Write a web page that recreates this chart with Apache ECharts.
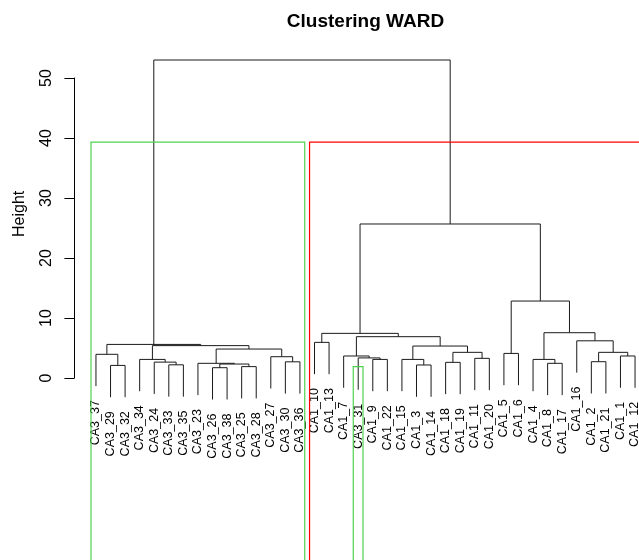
<!DOCTYPE html>
<html><head><meta charset="utf-8">
<script src="https://cdn.jsdelivr.net/npm/echarts@6/dist/echarts.min.js"></script>
<style>html,body{margin:0;padding:0;background:#fff}#c{width:639px;height:560px}</style>
</head><body><div id="c"></div>
<script>
// ---- data ----
const chartTitle = 'Clustering WARD';
const yAxisName = 'Height';
const leafLabels = [
  'CA3_37','CA3_29','CA3_32','CA3_34','CA3_24','CA3_33','CA3_35','CA3_23','CA3_26','CA3_38',
  'CA3_25','CA3_28','CA3_27','CA3_30','CA3_36','CA1_10','CA1_13','CA1_7','CA3_31','CA1_9',
  'CA1_22','CA1_15','CA1_3','CA1_14','CA1_18','CA1_19','CA1_11','CA1_20','CA1_5','CA1_6',
  'CA1_4','CA1_8','CA1_17','CA1_16','CA1_2','CA1_21','CA1_1','CA1_12'
];
// merge children: negative = leaf position (1-based, plotting order), positive = earlier merge (1-based)
const mergeLeft  = [ -9,-11, -2, -6,  1, -8, -5,-14, -4,-13, -1,  6,  9, 11,
                    -20,-19,-18,-16,-23,-22,-25,-27, 21, 20, 17, 18,-29,-32,-31,-35,-37, 30,-34, 29, 27, 26, 14];
const mergeRight = [-10,-12, -3, -7,  2,  5,  4,-15,  7,  8,  3, 10, 12, 13,
                    -21, 15, 16,-17,-24, 19,-26,-28, 22, 23, 24, 25,-30,-33, 28,-36,-38, 31, 32, 33, 34, 35, 36];
const mergeHeight = [1.72, 1.90, 2.10, 2.20, 2.33, 2.45, 2.65, 2.70, 3.10, 3.55, 3.95, 4.83, 5.40, 5.60,
                     3.10, 3.35, 3.67, 5.94, 2.17, 3.10, 2.61, 3.28, 4.28, 5.33, 6.89, 7.44,
                     4.10, 2.45, 3.10, 2.72, 3.67, 4.28, 6.20, 7.55, 12.83, 25.67, 53.0];
const yTicks = [0, 10, 20, 30, 40, 50];
const rectLeft  = [0.66, 15.66, 18.66];
const rectRight = [15.33, 38.33, 19.33];
const rectTop   = [39.33, 39.33, 1.89];
const rectColors = ['#4fd34f', '#ff0000', '#4fd34f'];
const hang = 0.1;

// ---- layout from data ----
const FONT = '"Liberation Sans", Arial, Helvetica, sans-serif';
const n = leafLabels.length;
const maxH = Math.max(...mergeHeight), minH = Math.min(...mergeHeight);
const hangH = hang * maxH;
const mergeX = [];
const leafBottom = new Array(n).fill(0);
function posOf(c){ return c < 0 ? -c : mergeX[c-1]; }
const segs = [];
for (let k = 0; k < mergeHeight.length; k++) {
  const l = mergeLeft[k], r = mergeRight[k], h = mergeHeight[k];
  mergeX[k] = (posOf(l) + posOf(r)) / 2;
  const hl = l < 0 ? h - hangH : mergeHeight[l-1];
  const hr = r < 0 ? h - hangH : mergeHeight[r-1];
  if (l < 0) leafBottom[-l-1] = h - hangH;
  if (r < 0) leafBottom[-r-1] = h - hangH;
  segs.push([posOf(l), hl, posOf(r), hr, h]);
}
const leafData = leafBottom.map((b, i) => [i + 1, b]);
const rectData = rectLeft.map((l, i) => [l, rectRight[i], rectTop[i]]);

const xExt = 0.04 * (n - 1), yExt = 0.04 * (maxH - minH);

const chart = echarts.init(document.getElementById('c'), null, {renderer: 'canvas'});
chart.setOption({
  animation: false,
  backgroundColor: '#fff',
  graphic: [{
    type: 'text', x: 365.5, y: 22, silent: true,
    style: {text: chartTitle, font: 'bold 19px ' + FONT, fill: '#000',
            align: 'center', verticalAlign: 'middle', textAlign: 'center', textVerticalAlign: 'middle'}
  }],
  grid: [
    {left: 74.4, top: 47.7, width: 582.2, height: 332.3, containLabel: false, outerBoundsMode: 'none'},
    {left: 74.4, top: 78, width: 582.2, height: 300, containLabel: false, outerBoundsMode: 'none'}
  ],
  xAxis: [
    {gridIndex: 0, type: 'value', min: 1 - xExt, max: n + xExt, show: false},
    {gridIndex: 1, type: 'value', min: 0, max: 1, show: false}
  ],
  yAxis: [
    {gridIndex: 0, type: 'value', min: minH - yExt, max: maxH + yExt,
     name: yAxisName, nameLocation: 'middle', nameRotate: 90, nameGap: 47,
     nameTextStyle: {fontSize: 16, fontFamily: FONT, color: '#000'},
     axisLine: {show: false}, axisTick: {show: false}, axisLabel: {show: false}, splitLine: {show: false}},
    {gridIndex: 1, type: 'value', min: yTicks[0], max: yTicks[yTicks.length-1], interval: yTicks[1]-yTicks[0],
     axisLine: {show: true, lineStyle: {color: '#000', width: 1}},
     axisTick: {show: true, length: 10, inside: false, lineStyle: {color: '#000', width: 1}},
     axisLabel: {show: true, rotate: 90, margin: 20, fontSize: 16, fontFamily: FONT, color: '#000'},
     splitLine: {show: false}}
  ],
  series: [
    {
      type: 'custom', xAxisIndex: 0, yAxisIndex: 0, clip: false, silent: true,
      data: segs,
      renderItem: function(params, api) {
        const p1 = api.coord([api.value(0), api.value(1)]);
        const p2 = api.coord([api.value(0), api.value(4)]);
        const p3 = api.coord([api.value(2), api.value(4)]);
        const p4 = api.coord([api.value(2), api.value(3)]);
        return {type: 'polyline', shape: {points: [p1, p2, p3, p4]},
                style: {stroke: '#1a1a1a', lineWidth: 1, fill: null}};
      }
    },
    {
      type: 'custom', xAxisIndex: 0, yAxisIndex: 0, clip: false, silent: true,
      data: leafData,
      renderItem: function(params, api) {
        const p = api.coord([api.value(0), api.value(1)]);
        return {type: 'text', x: p[0], y: p[1] + 14, rotation: Math.PI / 2,
                style: {text: leafLabels[params.dataIndex], font: '12.5px ' + FONT, fill: '#000',
                        align: 'right', verticalAlign: 'middle', textAlign: 'right', textVerticalAlign: 'middle'}};
      }
    },
    {
      type: 'custom', xAxisIndex: 0, yAxisIndex: 0, clip: false, silent: true,
      data: rectData,
      renderItem: function(params, api) {
        const bottom = api.getHeight() + 10;
        const a = api.coord([api.value(0), api.value(2)]);
        const b = api.coord([api.value(1), api.value(2)]);
        return {type: 'polyline', shape: {points: [[a[0], bottom], a, b, [b[0], bottom]]},
                style: {stroke: rectColors[params.dataIndex], lineWidth: 1.2, fill: null}};
      }
    }
  ]
});
</script></body></html>
